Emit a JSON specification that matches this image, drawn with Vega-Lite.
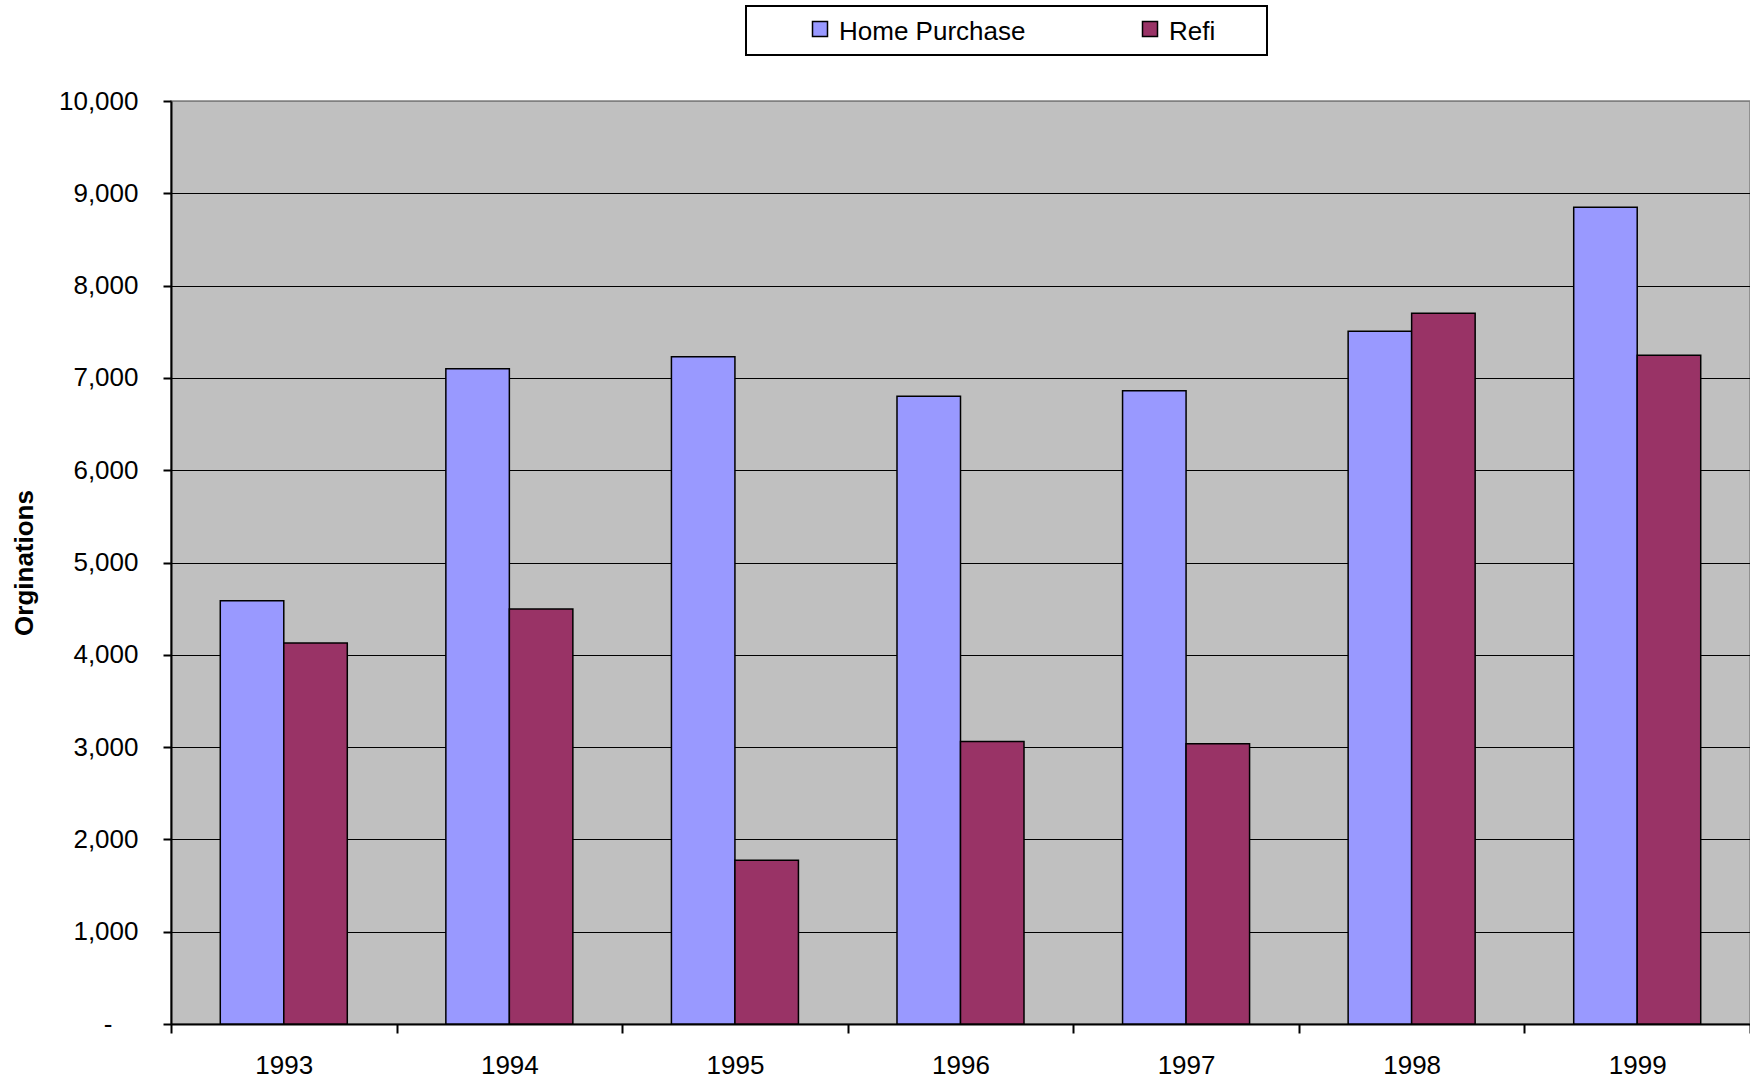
{
  "$schema": "https://vega.github.io/schema/vega-lite/v6.json",
  "width": 1579,
  "height": 923,
  "autosize": {"type": "none"},
  "padding": {"left": 171, "top": 101, "right": 0, "bottom": 57},
  "background": "white",
  "config": {
    "view": {"fill": "#C0C0C0", "stroke": "#808080", "strokeWidth": 1.5},
    "font": "Arial, Liberation Sans"
  },
  "data": {
    "values": [
      {"year": "1993", "type": "Home Purchase", "value": 4585},
      {"year": "1993", "type": "Refi", "value": 4128},
      {"year": "1994", "type": "Home Purchase", "value": 7100},
      {"year": "1994", "type": "Refi", "value": 4495},
      {"year": "1995", "type": "Home Purchase", "value": 7230},
      {"year": "1995", "type": "Refi", "value": 1775},
      {"year": "1996", "type": "Home Purchase", "value": 6800},
      {"year": "1996", "type": "Refi", "value": 3060},
      {"year": "1997", "type": "Home Purchase", "value": 6860},
      {"year": "1997", "type": "Refi", "value": 3035},
      {"year": "1998", "type": "Home Purchase", "value": 7505},
      {"year": "1998", "type": "Refi", "value": 7700},
      {"year": "1999", "type": "Home Purchase", "value": 8850},
      {"year": "1999", "type": "Refi", "value": 7245}
    ]
  },
  "mark": {"type": "bar", "stroke": "black", "strokeWidth": 1.5},
  "encoding": {
    "x": {
      "field": "year",
      "type": "ordinal",
      "scale": {"paddingInner": 0, "paddingOuter": 0},
      "axis": {
        "title": null,
        "labelAngle": 0,
        "labelFontSize": 26,
        "labelColor": "black",
        "labelPadding": 19,
        "tickBand": "extent",
        "tickSize": 9,
        "tickWidth": 2,
        "tickColor": "black",
        "domainColor": "black",
        "domainWidth": 2,
        "grid": false
      }
    },
    "xOffset": {
      "field": "type",
      "sort": ["Home Purchase", "Refi"],
      "scale": {"paddingInner": 0, "paddingOuter": 0.776}
    },
    "y": {
      "field": "value",
      "type": "quantitative",
      "scale": {"domain": [0, 10000], "nice": false},
      "axis": {
        "title": "Orginations",
        "titleFontSize": 26,
        "titleFontWeight": "bold",
        "titleColor": "black",
        "titleX": -147,
        "titleY": 461.5,
        "titleAngle": -90,
        "titleAlign": "center",
        "titleBaseline": "middle",
        "values": [0, 1000, 2000, 3000, 4000, 5000, 6000, 7000, 8000, 9000, 10000],
        "labelExpr": "datum.value == 0 ? '-' : format(datum.value, ',')",
        "labelFontSize": 26,
        "labelColor": "black",
        "labelPadding": {"condition": {"test": "datum.value == 0", "value": 51}, "value": 25},
        "tickSize": 8,
        "tickWidth": 2,
        "tickColor": "black",
        "domainColor": "black",
        "domainWidth": 2,
        "grid": true,
        "gridColor": {"condition": {"test": "datum.value == 10000", "value": "#808080"}, "value": "black"},
        "gridWidth": 1.2,
        "gridOpacity": 1
      }
    },
    "color": {
      "field": "type",
      "type": "nominal",
      "scale": {"domain": ["Home Purchase", "Refi"], "range": ["#9999FF", "#993366"]},
      "legend": {
        "orient": "none",
        "legendX": 575,
        "legendY": -95,
        "direction": "horizontal",
        "title": "\u00a0",
        "titleOrient": "right",
        "titleFontSize": 1,
        "titlePadding": 42,
        "symbolType": "square",
        "symbolSize": 225,
        "symbolStrokeColor": "black",
        "symbolStrokeWidth": 1.5,
        "symbolOpacity": 1,
        "symbolOffset": 51,
        "labelFontSize": 26,
        "labelLimit": 500,
        "labelColor": "black",
        "labelOffset": 6,
        "columnPadding": 60,
        "padding": 10,
        "strokeColor": "black",
        "fillColor": "white",
        "cornerRadius": 0,
        "encode": {
          "legend": {"update": {"strokeWidth": {"value": 2}}},
          "labels": {"update": {"dy": {"value": 3}}}
        }
      }
    }
  }
}
